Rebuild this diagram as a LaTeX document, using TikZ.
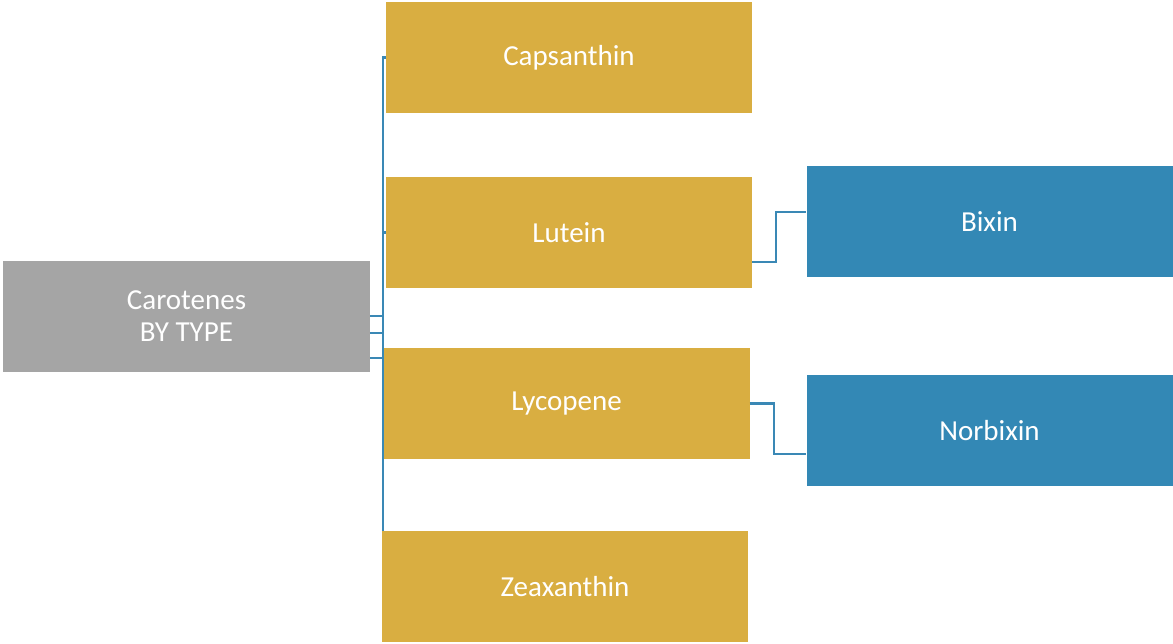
\documentclass[tikz,border=0pt]{standalone}
\usepackage{fontspec}
\setmainfont{Carlito}
\definecolor{gold}{HTML}{D9AE41}
\definecolor{grayb}{HTML}{A5A5A5}
\definecolor{blueb}{HTML}{3388B5}
\definecolor{linec}{HTML}{3A88B5}
\begin{document}
\begin{tikzpicture}[x=1pt,y=-1pt,
  box/.style={draw=none,minimum width=366pt,minimum height=111pt,inner sep=0pt,text=white,font=\fontsize{29}{32}\selectfont,align=center},
  conn/.style={draw=linec,line width=2.6pt}]
\useasboundingbox (0,0) rectangle (1173,644);
\node[box,fill=grayb,minimum width=367pt] (car) at (186.5,316.5) {Carotenes\\BY TYPE};
\node[box,fill=gold] (cap) at (569,57.5) {Capsanthin};
\node[box,fill=gold] (lut) at (569,232.5) {Lutein};
\node[box,fill=gold] (lyc) at (566.5,403.5) {Lycopene};
\node[box,fill=gold] (zea) at (565,586.5) {Zeaxanthin};
\node[box,fill=blueb] (bix) at (989.5,221.5) {Bixin};
\node[box,fill=blueb] (nor) at (989.5,430.5) {Norbixin};
\coordinate (tr) at (383,0);
\draw[conn] (car.east |- 0,333) -| (tr |- cap.west) -- (cap.west);
\draw[conn] (car.east |- 0,316) -| (tr |- lut.west) -- (lut.west);
\draw[conn] (car.east |- 0,333) -| (tr |- lyc.west) -- (lyc.west);
\draw[conn] (car.east |- 0,358) -| (tr |- zea.north);
\coordinate (bt) at (776,212);
\draw[conn] (lut.east |- 0,262) -| (bt) -- (bix.west |- bt);
\coordinate (nt) at (774,454);
\draw[conn] (lyc.east) -| (nt) -- (nor.west |- nt);
\end{tikzpicture}
\end{document}
